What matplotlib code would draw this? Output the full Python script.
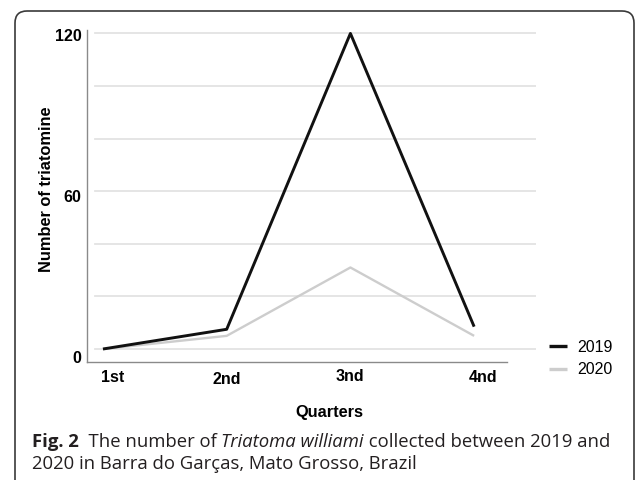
import matplotlib
matplotlib.use("Agg")
import matplotlib.pyplot as plt
from matplotlib.patches import FancyBboxPatch
from matplotlib.transforms import ScaledTranslation

quarters = ["1st", "2nd", "3nd", "4nd"]
y2019 = [0, 7.5, 120, 8.5]
y2020 = [0, 5, 31, 5]
yticks = [0, 60, 120]
grid_vals = [0, 20, 40, 60, 80, 100, 120]

W, H, DPI = 636, 480, 100
fig = plt.figure(figsize=(W / DPI, H / DPI), dpi=DPI)
plt.rcParams['font.family'] = ['Liberation Sans', 'DejaVu Sans']


def fx(p):
    return p / W


def fy(p):
    return 1 - p / H


# frame
frame = FancyBboxPatch((0.15, -0.3), 6.34 - 0.15, 4.69 + 0.3,
                       boxstyle="round,pad=0,rounding_size=0.12",
                       transform=fig.dpi_scale_trans, fill=False,
                       edgecolor="#3a3a3a", linewidth=1.2, zorder=0)
fig.patches.append(frame)

ax = fig.add_axes([fx(87), fy(362), fx(536) - fx(87), (362 - 30) / H])
x = list(range(len(quarters)))
ax.set_xlim(-0.129, 3.50)
ax.set_ylim(-4.94, 121.3)

for g in grid_vals:
    ax.axhline(g, xmin=8 / 449, xmax=1, color="#e3e3e3", lw=1.3, zorder=1)

ax.plot(x, y2020, color="#cdcdcd", lw=1.7, zorder=3, label="2020", solid_capstyle="butt")
ax.plot(x, y2019, color="#111111", lw=2.1, zorder=4, label="2019", solid_capstyle="butt")

for s in ["top", "right"]:
    ax.spines[s].set_visible(False)
ax.spines["left"].set_color("#8a8a8a")
ax.spines["left"].set_linewidth(1.0)
ax.spines["bottom"].set_color("#8a8a8a")
ax.spines["bottom"].set_linewidth(1.0)
ax.spines["bottom"].set_bounds(-0.129, 3.266)

ax.set_yticks(yticks)
ax.set_yticklabels([str(v) for v in yticks], fontsize=11.5, fontweight="bold")
ax.set_xticks(x)
ax.set_xticklabels(quarters, fontsize=11.5, fontweight="bold")
ax.tick_params(axis="both", length=0)
ax.tick_params(axis="y", pad=4)
ax.tick_params(axis="x", pad=6)

yoff = {0: 8, 60: 5, 120: 1.7}
for lab, v in zip(ax.get_yticklabels(), yticks):
    lab.set_transform(lab.get_transform() + ScaledTranslation(0, -yoff[v] / DPI, fig.dpi_scale_trans))
xoff = [(10, 0), (0, 2), (-1, -1), (9, 0)]
for lab, (dx, dy) in zip(ax.get_xticklabels(), xoff):
    lab.set_transform(lab.get_transform() + ScaledTranslation(dx / DPI, -dy / DPI, fig.dpi_scale_trans))

ax.set_ylabel("Number of triatomine", fontsize=11.8, fontweight="bold")
ax.yaxis.set_label_coords(fx(46.7), fy(189.5), transform=fig.transFigure)
ax.yaxis.label.set_va("center")
ax.set_xlabel("Quarters", fontsize=11.8, fontweight="bold")
ax.xaxis.set_label_coords(fx(329), fy(412), transform=fig.transFigure)
ax.xaxis.label.set_va("center")

handles, labels = ax.get_legend_handles_labels()
order = [1, 0]
leg = ax.legend([handles[i] for i in order], [labels[i] for i in order],
                loc="upper left", bbox_to_anchor=(fx(549), fy(340)),
                bbox_transform=fig.transFigure, frameon=False,
                fontsize=11.5, handlelength=1.15, handletextpad=0.6,
                labelspacing=0.45, borderpad=0, borderaxespad=0)
for line in leg.get_lines():
    line.set_linewidth(2.4)

# caption with mixed styles
cap_font = ['Open Sans', 'DejaVu Sans']
cap_size = 13.3
renderer = fig.canvas.get_renderer()


def run(pieces, x0, yc):
    xc = x0
    for txt, kw in pieces:
        t = fig.text(fx(xc), fy(yc), txt, fontsize=cap_size, family=cap_font,
                     va="center_baseline", ha="left", color="#231f20", **kw)
        bb = t.get_window_extent(renderer=renderer)
        xc += bb.width


run([("Fig. 2", dict(fontweight="bold")),
     ("  The number of ", {}),
     ("Triatoma williami", dict(style="italic")),
     (" collected between 2019 and", {})], 32, 440)
run([("2020 in Barra do Garças, Mato Grosso, Brazil", {})], 32, 462)

fig.savefig("out.png", dpi=DPI)
